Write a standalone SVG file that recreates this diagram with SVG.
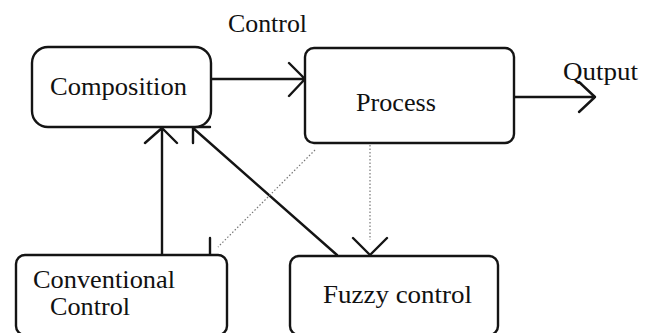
<svg xmlns="http://www.w3.org/2000/svg" width="650" height="333" viewBox="0 0 650 333">
<style>
.box{fill:#fff;stroke:#141414;stroke-width:2.4}
.t{font-family:"Liberation Serif","Times New Roman",serif;font-size:26px;fill:#111}
.ln{fill:none;stroke:#141414;stroke-width:2.4;stroke-linecap:round;stroke-linejoin:round}
.dot{fill:none;stroke:#777;stroke-width:1.2;stroke-dasharray:1.5 2}
</style>
<rect width="650" height="333" fill="#fff"/>
<g id="connectors">
<path class="ln" d="M211 79 H305 M289 63 L305 79 L289 96"/>
<path class="ln" d="M514 97 H595 M579 82 L595 97 L579 112"/>
<path class="ln" d="M162 255 V128 M145 143 L162 128 L177 143"/>
<path class="ln" d="M337 255 L193 128 M193 143 V127 H210"/>
<path class="dot" d="M370 145 V240"/>
<path class="ln" d="M353 238 L370 255 L387 238"/>
<path class="dot" d="M315 150 L218 247"/>
<path class="ln" d="M210 238 V255"/>
</g>
<g id="composition">
<rect class="box" x="32" y="47" width="179" height="80" rx="16"/>
<text class="t" x="50" y="95" textLength="137" lengthAdjust="spacingAndGlyphs">Composition</text>
</g>
<g id="process">
<rect class="box" x="305" y="48" width="209" height="95" rx="9"/>
<text class="t" x="356" y="111" textLength="80" lengthAdjust="spacingAndGlyphs">Process</text>
</g>
<g id="control-label">
<text class="t" x="228" y="32" textLength="79" lengthAdjust="spacingAndGlyphs">Control</text>
</g>
<g id="output-label">
<text class="t" x="563" y="80" textLength="75" lengthAdjust="spacingAndGlyphs">Qutput</text>
</g>
<g id="conventional">
<rect class="box" x="16" y="255" width="211" height="80" rx="9"/>
<text class="t" x="33" y="288" textLength="142" lengthAdjust="spacingAndGlyphs">Conventional</text>
<text class="t" x="50" y="315" textLength="80" lengthAdjust="spacingAndGlyphs">Control</text>
</g>
<g id="fuzzy">
<rect class="box" x="290" y="256" width="208" height="79" rx="9"/>
<text class="t" x="323" y="303" textLength="149" lengthAdjust="spacingAndGlyphs">Fuzzy control</text>
</g>
</svg>
